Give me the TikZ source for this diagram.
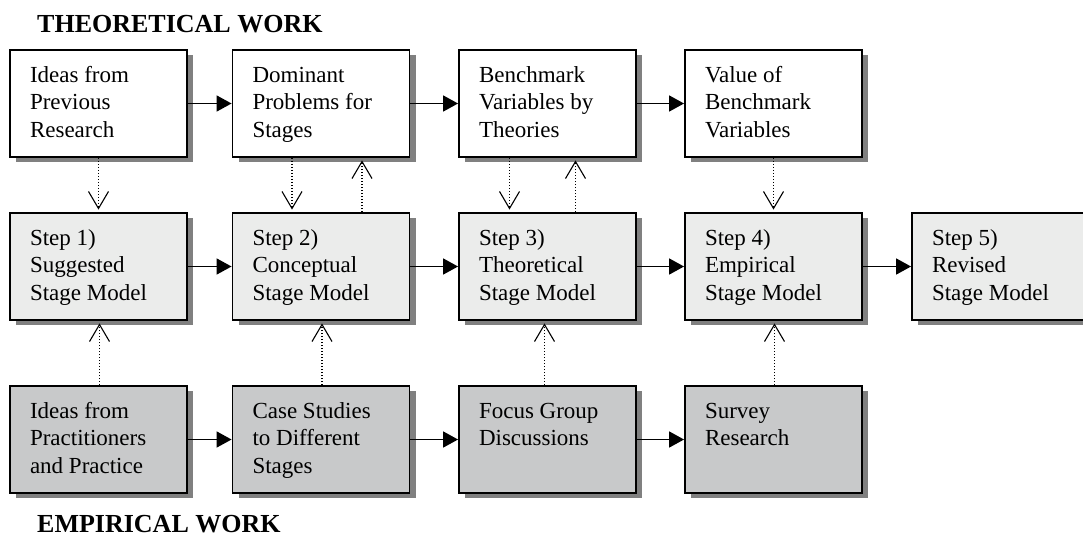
\documentclass[tikz,border=0pt]{standalone}
\usepackage{fontspec}
\setmainfont{Liberation Serif}
\usetikzlibrary{arrows.meta,shadows}

\definecolor{stepgray}{RGB}{235,236,235}
\definecolor{empgray}{RGB}{200,201,202}
\definecolor{shadowgray}{RGB}{128,128,128}

\newcommand{\boxtext}[1]{\parbox[c][107pt][t]{137pt}{\rule{0pt}{32pt}#1}}

\tikzset{
    box/.style={draw, line width=1.9pt, minimum width=177pt, minimum height=107pt, inner sep=0pt,
        font=\fontsize{23pt}{27.5pt}\selectfont,
        drop shadow={shadow xshift=6pt, shadow yshift=-5pt, fill=shadowgray, opacity=1}},
    theorybox/.style={box, fill=white},
    stepbox/.style={box, fill=stepgray},
    empbox/.style={box, fill=empgray},
    heading/.style={anchor=base west, inner sep=0pt, font=\fontsize{26pt}{30pt}\selectfont\bfseries},
    flow/.style={line width=1.7pt, -{Triangle[length=15pt,width=16pt]}},
    link/.style={line width=1.5pt, dash pattern=on 1.5pt off 1.5pt, shorten >=2.5pt,
        -{Straight Barb[length=17pt,width=20pt,line width=1.1pt]}}
}

\begin{document}
\begin{tikzpicture}[x=1pt,y=-1pt]
    \useasboundingbox (0,0) rectangle (1083,536);

    \node[heading] (theory) at (37,32) {THEORETICAL WORK};
    \node[heading] (empirical) at (37,532) {EMPIRICAL WORK};

    % theoretical work
    \node[theorybox] (t1) at (98.5,103.5) {\boxtext{Ideas from\\Previous\\Research}};
    \node[theorybox] (t2) at (321,103.5) {\boxtext{Dominant\\Problems for\\Stages}};
    \node[theorybox] (t3) at (547.5,103.5) {\boxtext{Benchmark\\Variables by\\Theories}};
    \node[theorybox] (t4) at (773.5,103.5) {\boxtext{Value of\\Benchmark\\Variables}};

    % stage models
    \node[stepbox] (s1) at (98.5,266.5) {\boxtext{Step 1)\\Suggested\\Stage Model}};
    \node[stepbox] (s2) at (321,266.5) {\boxtext{Step 2)\\Conceptual\\Stage Model}};
    \node[stepbox] (s3) at (547.5,266.5) {\boxtext{Step 3)\\Theoretical\\Stage Model}};
    \node[stepbox] (s4) at (773.5,266.5) {\boxtext{Step 4)\\Empirical\\Stage Model}};
    \node[stepbox] (s5) at (1000.5,266.5) {\boxtext{Step 5)\\Revised\\Stage Model}};

    % empirical work
    \node[empbox] (e1) at (98.5,439.5) {\boxtext{Ideas from\\Practitioners\\and Practice}};
    \node[empbox] (e2) at (321,439.5) {\boxtext{Case Studies\\to Different\\Stages}};
    \node[empbox] (e3) at (547.5,439.5) {\boxtext{Focus Group\\Discussions}};
    \node[empbox] (e4) at (773.5,439.5) {\boxtext{Survey\\Research}};

    \foreach \a/\b in {t1/t2,t2/t3,t3/t4,s1/s2,s2/s3,s3/s4,s4/s5,e1/e2,e2/e3,e3/e4}
        \draw[flow] (\a) -- (\b);

    \foreach \a/\b/\d in {t1/s1/0,t2/s2/-29,t3/s3/-38,t4/s4/0}
        \draw[link] ([xshift=\d pt]\a.south) -- ([xshift=\d pt]\b.north);

    \foreach \a/\b/\d in {s2/t2/41,s3/t3/28,e1/s1/1,e2/s2/1,e3/s3/-3,e4/s4/1}
        \draw[link] ([xshift=\d pt]\a.north) -- ([xshift=\d pt]\b.south);
\end{tikzpicture}
\end{document}
